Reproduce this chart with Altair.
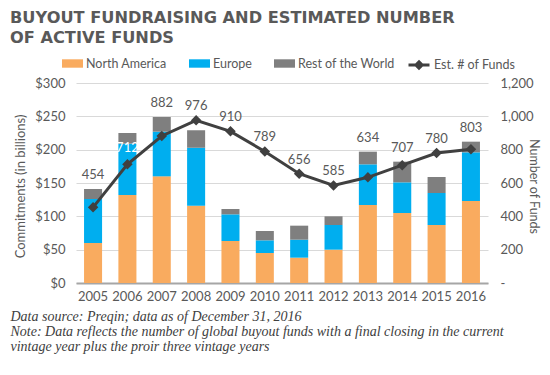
import altair as alt
import pandas as pd

years = [str(y) for y in range(2005, 2017)]
north_america = [60, 132, 160, 116, 63, 45, 38, 50, 117, 105, 87, 123]
europe = [66, 77, 67, 87, 40, 19, 27, 37, 61, 46, 48, 73]
rest_of_world = [15, 16, 22, 26, 8, 14, 21, 13, 19, 31, 24, 16]
funds = [454, 712, 882, 976, 910, 789, 656, 585, 634, 707, 780, 803]

regions = ["North America", "Europe", "Rest of the World"]
region_colors = ["#F9AB5F", "#00AEEF", "#7F7F7F"]

rows = []
for i, y in enumerate(years):
    for k, (name, vals) in enumerate(zip(regions, [north_america, europe, rest_of_world])):
        rows.append({"year": y, "region": name, "value": vals[i], "order": k})
bars_df = pd.DataFrame(rows)

totals = [a + b + c for a, b, c in zip(north_america, europe, rest_of_world)]
line_df = pd.DataFrame({"year": years, "funds": funds, "total": totals,
                        "series": ["Est. # of Funds"] * len(years)})

GREY = "#595959"
FONT = "Lato"

x_enc = alt.X(
    "year:N",
    scale=alt.Scale(paddingInner=0.475, paddingOuter=0.234),
    axis=alt.Axis(
        title=[
            "Data source: Preqin; data as of December 31, 2016",
            "Note: Data reflects the number of global buyout funds with a final closing in the current",
            "vintage year plus the proir three vintage years",
        ],
        labelAngle=0, labelFont=FONT, labelFontSize=13, labelColor=GREY, labelPadding=7,
        ticks=False, domainColor="#A6A6A6", domainWidth=2,
        titleFont="Liberation Serif", titleFontStyle="italic", titleFontWeight="normal",
        titleFontSize=14, titleColor="#404040", titleAnchor="start", titleAlign="left",
        titleBaseline="top", titleX=-66, titleY=26, titleLineHeight=15,
    ),
)

bars = alt.Chart(bars_df).mark_bar().encode(
    x=x_enc,
    y=alt.Y(
        "sum(value):Q",
        scale=alt.Scale(domain=[0, 300]),
        axis=alt.Axis(
            values=[0, 50, 100, 150, 200, 250, 300], labelExpr="'$' + datum.value",
            title="Commitments (in billions)", grid=True, gridColor="#D9D9D9",
            domain=False, ticks=False, labelFont=FONT, labelFontSize=13, labelColor=GREY,
            labelPadding=11, labelOverlap=False, titleFont=FONT, titleFontSize=13,
            titleFontWeight="normal", titleColor=GREY, titleX=-56, titleY=103,
            titleAlign="center", titleBaseline="middle",
        ),
    ),
    color=alt.Color(
        "region:N",
        scale=alt.Scale(domain=regions, range=region_colors),
        legend=alt.Legend(
            orient="none", legendX=-14, legendY=-30, direction="horizontal", title=None,
            symbolType="M-1,-0.4H1V0.4H-1Z", symbolSize=441, symbolStrokeWidth=0,
            labelFont=FONT, labelFontSize=12.5, labelColor=GREY, columnPadding=22,
            labelOffset=3,
        ),
    ),
    order=alt.Order("order:Q"),
)

right_axis = alt.Axis(
    orient="right", values=[0, 200, 400, 600, 800, 1000, 1200],
    labelExpr="datum.value == 0 ? '-' : format(datum.value, ',')",
    title="Number of Funds", grid=False, domain=False, ticks=False,
    labelFont=FONT, labelFontSize=13, labelColor=GREY, labelPadding=12,
    labelOverlap=False,
    titleFont=FONT, titleFontSize=12.5, titleFontWeight="normal", titleColor=GREY,
    titleX=45, titleY=103, titleAngle=90, titleAlign="center", titleBaseline="middle",
)
right_scale = alt.Scale(domain=[0, 1200])

line = alt.Chart(line_df).mark_line(
    strokeWidth=3,
    point=alt.OverlayMarkDef(shape="diamond", size=60, filled=True, color="#404040"),
).encode(
    x=alt.X("year:N"),
    y=alt.Y("funds:Q", scale=right_scale, axis=right_axis),
    stroke=alt.Stroke(
        "series:N",
        scale=alt.Scale(range=["#404040"]),
        legend=alt.Legend(
            orient="none", legendX=331, legendY=-30, title=None,
            symbolType="M-1,0H1M-0.3,0L0,-0.3L0.3,0L0,0.3Z", symbolSize=441,
            symbolStrokeWidth=3, symbolFillColor="#404040",
            labelFont=FONT, labelFontSize=12.5, labelColor=GREY, labelOffset=3,
        ),
    ),
)

labels = alt.Chart(line_df).transform_calculate(
    label_y="datum.year == '2006' ? datum.funds + 100 : max(datum.funds, datum.total * 4) + 85"
).mark_text(font=FONT, fontSize=13, baseline="middle").encode(
    x=alt.X("year:N"),
    y=alt.Y("label_y:Q", scale=right_scale, axis=right_axis),
    text=alt.Text("funds:Q"),
    color=alt.condition(alt.datum.year == "2006", alt.value("white"), alt.value(GREY)),
)

chart = alt.layer(bars, alt.layer(line, labels)).resolve_scale(
    y="independent"
).properties(
    width=412,
    height=200,
    title=alt.Title(
        text=["BUYOUT FUNDRAISING AND ESTIMATED NUMBER", "OF ACTIVE FUNDS"],
        anchor="start", frame="group", dx=-66, font="DejaVu Sans", fontSize=16.2,
        fontWeight="bold", color=GREY, lineHeight=20, offset=7,
    ),
    autosize=alt.AutoSizeParams(type="none"),
    padding={"left": 68, "top": 75, "right": 54, "bottom": 80},
).configure_view(stroke=None)

chart.save("out.html", embed_options={"renderer": "svg", "actions": False})
